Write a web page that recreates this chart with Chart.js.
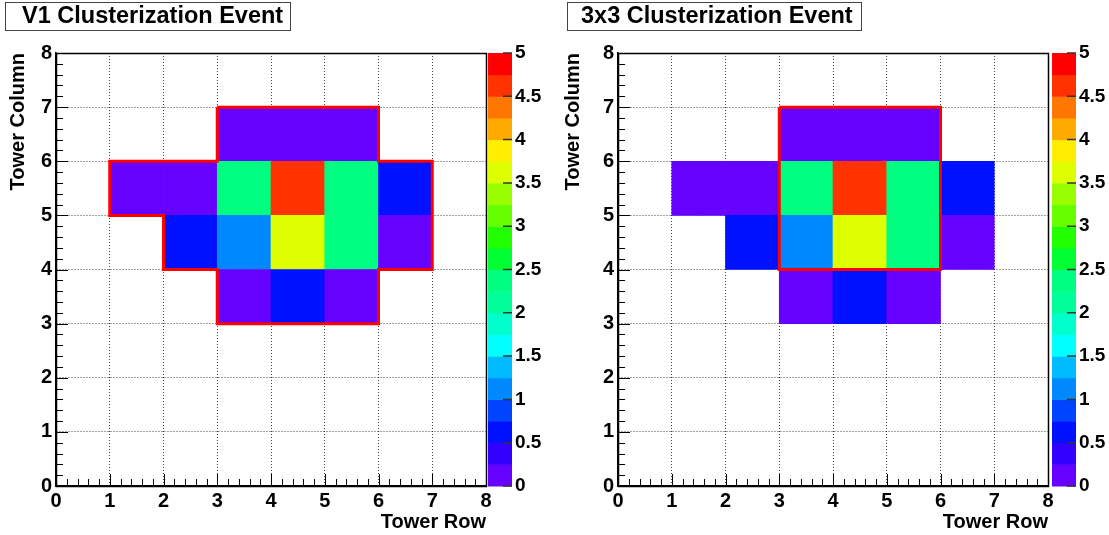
<!DOCTYPE html>
<html>
<head>
<meta charset="utf-8">
<title>Clusterization Events</title>
<script src="https://cdn.jsdelivr.net/npm/chart.js@4.4.1/dist/chart.umd.min.js"></script>
<style>
  html, body { margin: 0; padding: 0; background: #fff; overflow: hidden; }
  .pad { position: absolute; top: 0; height: 535px; }
  #leftPad { left: 0; width: 555px; }
  #rightPad { left: 555px; width: 554px; }
</style>
</head>
<body>
<div class="pad" id="leftPad"><canvas id="v1Chart" width="555" height="535"></canvas></div>
<div class="pad" id="rightPad"><canvas id="box3Chart" width="554" height="535"></canvas></div>
<script>
// ===========================
// DATA
// ===========================
const towerRows = ['0', '1', '2', '3', '4', '5', '6', '7'];
const towerTickLabels = ['0', '1', '2', '3', '4', '5', '6', '7', '8'];
const energyTickLabels = ['0', '0.5', '1', '1.5', '2', '2.5', '3', '3.5', '4', '4.5', '5'];

// energy per tower row, one list per tower column (null = empty tower)
const towerColumns = [3, 4, 5, 6];
const column3 = [null, null, null, 0.1, 0.6, 0.1, null, null];
const column4 = [null, null, 0.6, 1.1, 3.6, 2.3, 0.1, null];
const column5 = [null, 0.1, 0.1, 2.3, 4.6, 2.3, 0.6, null];
const column6 = [null, null, null, 0.1, 0.1, 0.1, null, null];
const columnEnergies = [column3, column4, column5, column6];

// cluster outlines, vertices as (tower row, tower column)
const v1OutlineRow = [3, 6, 6, 7, 7, 6, 6, 3, 3, 2, 2, 1, 1, 3, 3];
const v1OutlineCol = [7, 7, 6, 6, 4, 4, 3, 3, 4, 4, 5, 5, 6, 6, 7];
const box3OutlineRow = [3, 6, 6, 3, 3];
const box3OutlineCol = [7, 7, 4, 4, 7];

// 20 colour contours from 0 to 5
const energyMax = 5;
const paletteColors = [
  '#6600ff', '#3300ff', '#0011ff', '#0044ff', '#0088ff',
  '#00bbff', '#00ffff', '#00ffcc', '#00ff99', '#00ff80',
  '#00ff33', '#22ff00', '#66ff00', '#99ff00', '#ddff00',
  '#ffee00', '#ffaa00', '#ff7700', '#ff3300', '#ff0000'
];

const FONT = "'Liberation Sans', Arial, Helvetica, sans-serif";

// ===========================
// HELPERS
// ===========================

/**
 * Colour of the contour an energy falls in
 */
function energyColor(e) {
  const bin = Math.floor(e / (energyMax / paletteColors.length));
  return paletteColors[Math.min(paletteColors.length - 1, Math.max(0, bin))];
}

/**
 * One floating bar dataset per tower column
 */
function buildCellDatasets() {
  return columnEnergies.map((energies, k) => {
    const col = towerColumns[k];
    return {
      type: 'bar',
      xAxisID: 'x',
      yAxisID: 'y',
      order: 2,
      data: energies.map(e => e === null ? null : [col, col + 1]),
      backgroundColor: energies.map(e => e === null ? 'rgba(0,0,0,0)' : energyColor(e)),
      borderWidth: 0,
      barPercentage: 1,
      categoryPercentage: 1,
      grouped: false
    };
  });
}

/**
 * Red cluster outline as a line dataset
 */
function buildOutlineDataset(rows, cols) {
  return {
    type: 'line',
    xAxisID: 'xr',
    yAxisID: 'y',
    order: 0,
    data: rows.map((r, i) => ({ x: r, y: cols[i] })),
    borderColor: '#ff0000',
    borderWidth: 3,
    borderJoinStyle: 'miter',
    pointRadius: 0,
    fill: false,
    tension: 0
  };
}

// ===========================
// ROOT STYLE DECORATION PLUGIN
// ===========================
const rootDecorPlugin = {
  id: 'rootDecor',
  beforeDraw(chart) {
    const ctx = chart.ctx;
    ctx.save();
    ctx.fillStyle = '#fff';
    ctx.fillRect(0, 0, chart.width, chart.height);
    ctx.restore();
  },
  afterDraw(chart, args, opts) {
    const { ctx, chartArea: a, scales } = chart;
    const xs = scales.xr, ys = scales.y, zs = scales.z;
    ctx.save();

    // inner ticks, 5 subdivisions per unit
    ctx.strokeStyle = '#000';
    ctx.lineWidth = 1;
    ctx.beginPath();
    for (let i = 0; i <= 40; i++) {
      const len = i % 5 === 0 ? 12 : 7;
      const px = Math.round(xs.getPixelForValue(i / 5)) + 0.5;
      ctx.moveTo(px, a.bottom);
      ctx.lineTo(px, a.bottom - len);
      const py = Math.round(ys.getPixelForValue(i / 5)) + 0.5;
      ctx.moveTo(a.left, py);
      ctx.lineTo(a.left + len, py);
    }
    ctx.stroke();

    // frame
    ctx.lineWidth = 1.5;
    ctx.strokeRect(Math.round(a.left) + 0.5, Math.round(a.top) + 0.5,
      Math.round(a.right - a.left), Math.round(a.bottom - a.top));

    // colour palette
    const pl = a.right + opts.paletteGap;
    const pw = opts.paletteWidth;
    const step = energyMax / paletteColors.length;
    paletteColors.forEach((c, i) => {
      const y0 = zs.getPixelForValue(i * step);
      const y1 = zs.getPixelForValue((i + 1) * step);
      ctx.fillStyle = c;
      ctx.fillRect(pl, y1, pw, y0 - y1 + 0.5);
    });
    ctx.strokeStyle = '#333';
    ctx.lineWidth = 1.5;
    ctx.beginPath();
    energyTickLabels.forEach((t, i) => {
      const py = zs.getPixelForValue(i * energyMax / (energyTickLabels.length - 1));
      ctx.moveTo(pl + pw - 9, py);
      ctx.lineTo(pl + pw, py);
    });
    ctx.stroke();

    // title box
    const [bx, by, bw, bh] = opts.box;
    ctx.fillStyle = '#fff';
    ctx.fillRect(bx, by, bw, bh);
    ctx.strokeStyle = '#444';
    ctx.lineWidth = 1;
    ctx.strokeRect(bx + 0.5, by + 0.5, bw, bh);
    ctx.fillStyle = '#000';
    ctx.font = 'bold 23.5px ' + FONT;
    ctx.textBaseline = 'middle';
    ctx.fillText(opts.title, bx + opts.textPad, by + bh / 2 + 1);

    ctx.restore();
  }
};

// ===========================
// CHART BUILDER
// ===========================

/**
 * Build one clusterization pad
 */
function initializeClusterChart(canvasId, setup) {
  const tickFont = { family: FONT, size: 20, weight: 'bold' };
  return new Chart(document.getElementById(canvasId), {
    type: 'bar',
    data: {
      labels: towerRows,
      datasets: [...buildCellDatasets(), buildOutlineDataset(setup.outlineRow, setup.outlineCol)]
    },
    plugins: [rootDecorPlugin],
    options: {
      responsive: false,
      animation: false,
      devicePixelRatio: 1,
      layout: { padding: { top: 53, left: 0, right: 0, bottom: 0 } },
      plugins: {
        legend: { display: false },
        title: { display: false },
        tooltip: { enabled: false },
        rootDecor: {
          title: setup.title,
          box: setup.box,
          textPad: setup.textPad,
          paletteGap: setup.paletteGap,
          paletteWidth: 24
        }
      },
      scales: {
        x: {
          type: 'category',
          labels: towerRows,
          display: false,
          offset: true
        },
        xr: {
          type: 'linear',
          position: 'bottom',
          min: 0,
          max: 8,
          z: 1,
          offset: false,
          afterFit: s => { s.height = 49; },
          grid: { color: 'rgba(0,0,0,0.75)', lineWidth: 1, drawTicks: false, offset: false },
          border: { display: true, color: '#000', width: 1.5, dash: [1, 2] },
          ticks: {
            stepSize: 1,
            padding: 3,
            color: '#000',
            font: tickFont,
            maxRotation: 0,
            autoSkip: false,
            callback: (v, i) => towerTickLabels[i]
          },
          title: {
            display: true,
            text: 'Tower Row',
            align: 'end',
            color: '#000',
            font: tickFont,
            padding: { top: 0, bottom: 1 }
          }
        },
        y: {
          type: 'linear',
          min: 0,
          max: 8,
          z: 1,
          afterFit: s => { s.width = setup.yWidth; },
          grid: { color: 'rgba(0,0,0,0.75)', lineWidth: 1, drawTicks: false },
          border: { display: true, color: '#000', width: 1.5, dash: [1, 2] },
          ticks: {
            stepSize: 1,
            padding: 4,
            color: '#000',
            font: tickFont,
            callback: (v, i) => towerTickLabels[i]
          },
          title: {
            display: true,
            text: 'Tower Column',
            align: 'end',
            color: '#000',
            font: tickFont,
            padding: { top: 6, bottom: 0 }
          }
        },
        z: {
          type: 'linear',
          position: 'right',
          min: 0,
          max: energyMax,
          afterFit: s => { s.width = setup.zWidth; },
          grid: { display: false, drawTicks: false },
          border: { display: false },
          ticks: {
            stepSize: 0.5,
            padding: setup.paletteGap + 27,
            color: '#000',
            font: { family: FONT, size: 19, weight: 'bold' },
            callback: (v, i) => energyTickLabels[i]
          }
        }
      }
    }
  });
}

// ===========================
// INITIALIZATION
// ===========================
initializeClusterChart('v1Chart', {
  title: 'V1 Clusterization Event',
  box: [5, 2, 285, 28],
  textPad: 17,
  yWidth: 56,
  zWidth: 69,
  paletteGap: 2,
  outlineRow: v1OutlineRow,
  outlineCol: v1OutlineCol
});

initializeClusterChart('box3Chart', {
  title: '3x3 Clusterization Event',
  box: [12, 2, 294, 28],
  textPad: 14,
  yWidth: 63,
  zWidth: 61,
  paletteGap: 4,
  outlineRow: box3OutlineRow,
  outlineCol: box3OutlineCol
});
</script>
</body>
</html>
